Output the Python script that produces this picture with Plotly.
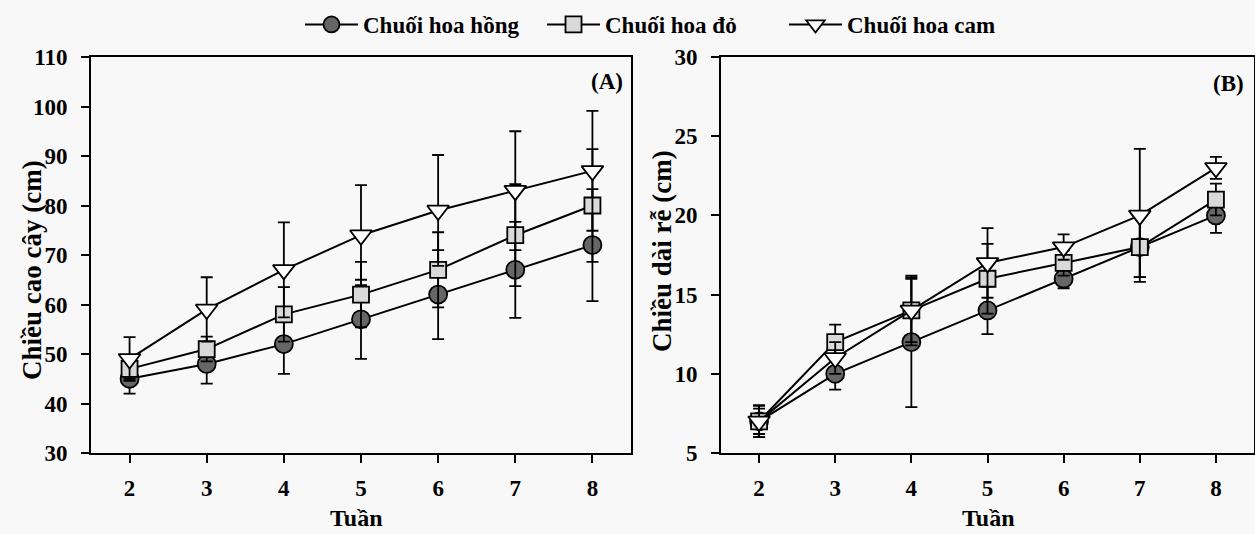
import plotly.graph_objects as go

weeks = [2, 3, 4, 5, 6, 7, 8]
series_names = ["Chuối hoa hồng", "Chuối hoa đỏ", "Chuối hoa cam"]

# Panel A: plant height (cm)
height_hong = [45, 48, 52, 57, 62, 67, 72]
height_hong_err = [3, 4, 6, 8, 9, 9.7, 11.3]
height_do = [47, 51, 58, 62, 67, 74, 80]
height_do_err = [2, 2.5, 5.5, 6.6, 7.6, 10.3, 11.4]
height_cam = [49, 59, 67, 74, 79, 83, 87]
height_cam_err = [4.4, 6.5, 9.6, 10.1, 11.2, 12, 12.1]

# Panel B: root length (cm)
root_hong = [7, 10, 12, 14, 16, 18, 20]
root_hong_err = [1, 1, 4.1, 1.5, 0.6, 1.9, 1.1]
root_do = [7, 12, 14, 16, 17, 18, 21]
root_do_err = [0.8, 1.1, 2, 2.2, 0.8, 1.9, 1.0]
root_cam = [7, 11, 14, 17, 18, 20, 23]
root_cam_err = [1, 1, 2.2, 2.2, 0.8, 4.2, 0.7]

FONT = "Liberation Serif"
styles = [
    dict(symbol="circle", color="#666666", size=18),
    dict(symbol="square", color="#d9d9d9", size=16),
    dict(symbol="triangle-down", color="#ffffff", size=19),
]

fig = go.Figure()

panels = [
    ("x", "y", [height_hong, height_do, height_cam], [height_hong_err, height_do_err, height_cam_err]),
    ("x2", "y2", [root_hong, root_do, root_cam], [root_hong_err, root_do_err, root_cam_err]),
]

for pi, (xa, ya, vals, errs) in enumerate(panels):
    for si in range(3):
        st = styles[si]
        fig.add_trace(go.Scatter(
            x=weeks, y=vals[si], xaxis=xa, yaxis=ya,
            mode="lines+markers",
            name=series_names[si],
            showlegend=(pi == 0),
            line=dict(color="black", width=2),
            marker=dict(symbol=st["symbol"], size=st["size"], color=st["color"],
                        line=dict(color="black", width=1.8)),
            error_y=dict(type="data", array=errs[si], visible=True,
                         color="black", thickness=1.8, width=6),
        ))

axis_common = dict(
    showline=True, linecolor="black", linewidth=2, mirror=True,
    ticks="outside", ticklen=8, tickwidth=2, tickcolor="black",
    showgrid=False, zeroline=False,
    tickfont=dict(family=FONT, size=23, color="black", weight="bold"),
)
xaxis_common = dict(axis_common, ticklabelstandoff=5)
yaxis_common = dict(axis_common, ticklabelstandoff=9)

fig.update_layout(
    width=1255, height=534,
    margin=dict(l=0, r=0, t=0, b=0, autoexpand=False),
    paper_bgcolor="#f8f8f8",
    plot_bgcolor="#f8f8f8",
    font=dict(family=FONT, size=23, color="black", weight="bold"),
    xaxis=dict(domain=[91/1255, 631/1255], range=[1.5, 8.5], tickvals=weeks, **xaxis_common),
    yaxis=dict(domain=[81/534, 477/534], range=[30, 110], tickvals=list(range(30, 111, 10)), **yaxis_common),
    xaxis2=dict(domain=[721/1255, 1254/1255], range=[1.5, 8.5], tickvals=weeks, anchor="y2", **xaxis_common),
    yaxis2=dict(domain=[81/534, 477/534], range=[5, 30], tickvals=list(range(5, 31, 5)), anchor="x2", **yaxis_common),
    legend=dict(orientation="h", x=300/1255, xanchor="left", y=1 - 3/534, yanchor="top",
                bgcolor="rgba(0,0,0,0)", font=dict(family=FONT, size=23, color="black", weight="bold"),
                itemwidth=53, entrywidth=174),
    showlegend=True,
)

annots = [
    dict(text="(A)", x=607/1255, y=1 - 82/534, size=23),
    dict(text="(B)", x=1228/1255, y=1 - 83/534, size=23),
    dict(text="Tuần", x=356/1255, y=1 - 518/534, size=24),
    dict(text="Tuần", x=988/1255, y=1 - 518/534, size=24),
]
for a in annots:
    fig.add_annotation(text=a["text"], x=a["x"], y=a["y"], xref="paper", yref="paper",
                       xanchor="center", yanchor="middle", showarrow=False,
                       font=dict(family=FONT, size=a["size"], color="black", weight="bold"))

for txt, xc, yc in [("Chiều cao cây (cm)", 32, 270), ("Chiều dài rễ (cm)", 662, 251)]:
    fig.add_annotation(text=txt, x=xc/1255, y=1 - yc/534, xref="paper", yref="paper",
                       xanchor="center", yanchor="middle", showarrow=False, textangle=-90,
                       font=dict(family=FONT, size=27, color="black", weight="bold"))

fig.write_html("out.html", config={"displayModeBar": False},
               post_script="document.body.style.margin='0';")
